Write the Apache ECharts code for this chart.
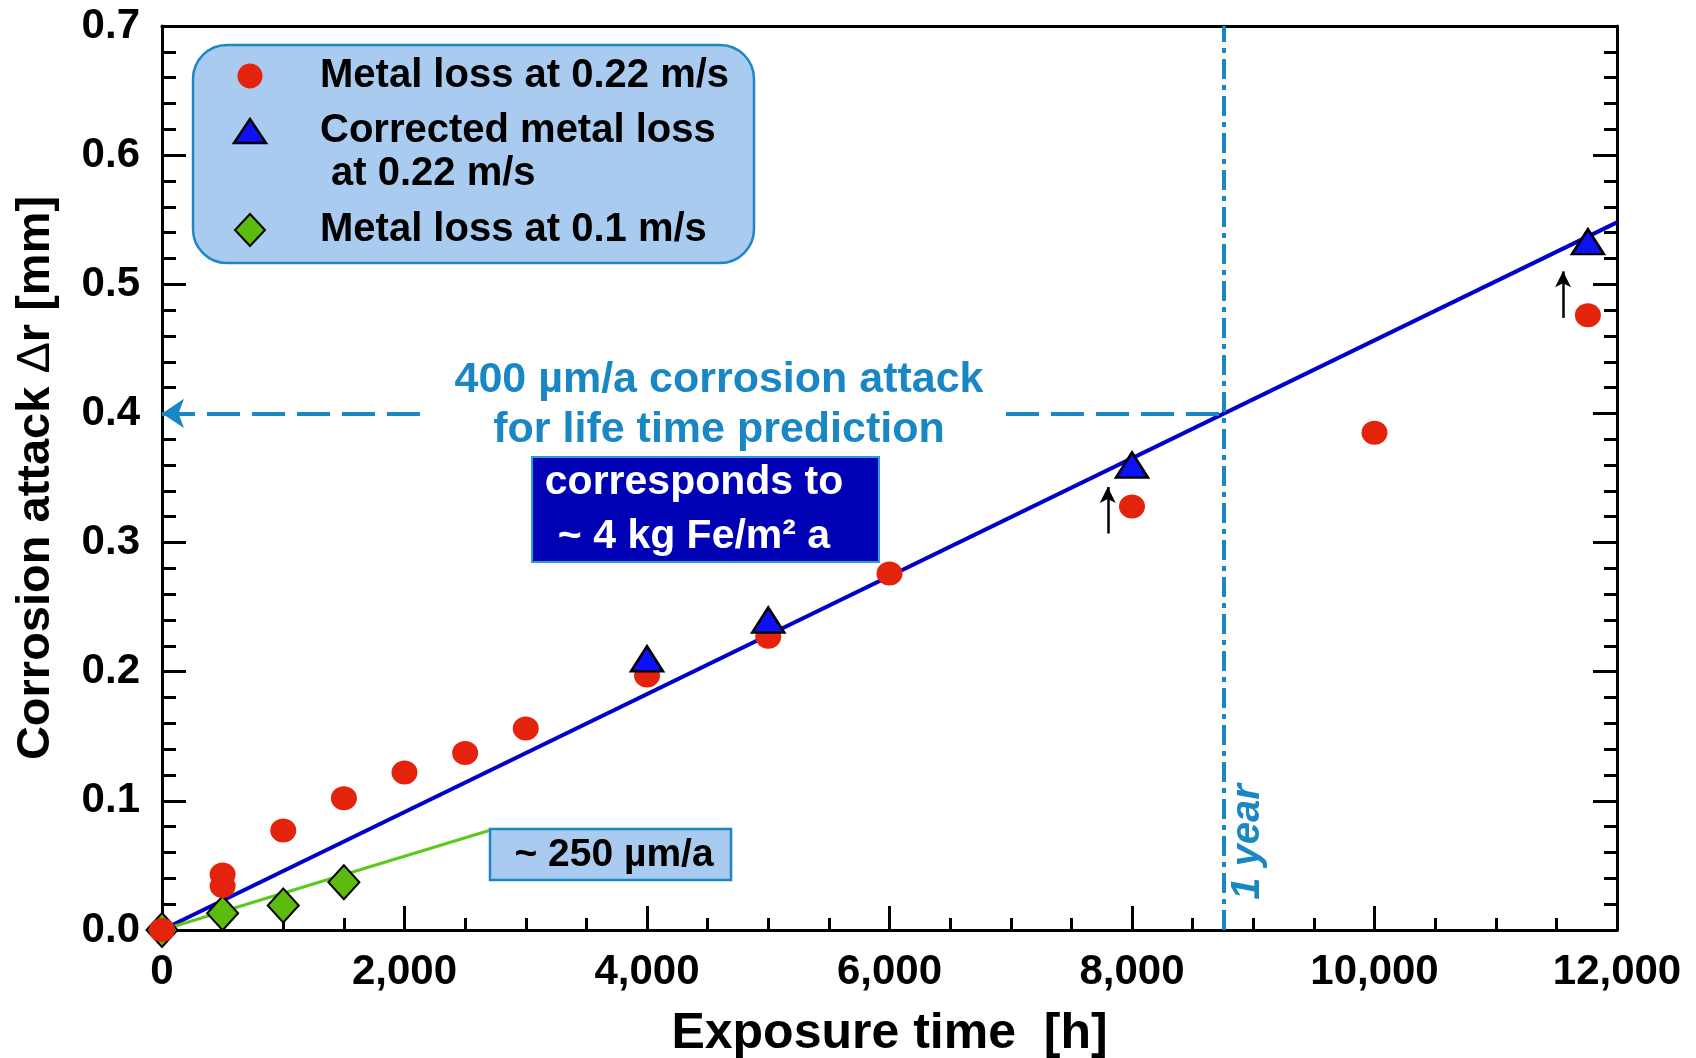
<!DOCTYPE html>
<html>
<head>
<meta charset="utf-8">
<script src="https://cdn.jsdelivr.net/npm/echarts@6/dist/echarts.min.js"></script>
<style>
  html, body { margin: 0; padding: 0; background: #fff; }
  #chart { width: 1696px; height: 1058px; }
</style>
</head>
<body>
<div id="chart"></div>
<script>
// Exposure time [h] and corrosion attack Δr [mm]
const redHours    = [0, 500, 500, 1000, 1500, 2000, 2500, 3000, 4000, 5000, 6000, 8000, 10000, 11760];
const redLoss     = [0, 0.043, 0.034, 0.077, 0.102, 0.122, 0.137, 0.156, 0.197, 0.227, 0.276, 0.328, 0.385, 0.476];
const triHours    = [4000, 5000, 8000, 11760];
const triLoss     = [0.210, 0.240, 0.360, 0.533];
const greenHours  = [0, 500, 1000, 1500];
const greenLoss   = [0, 0.013, 0.019, 0.037];

// Rates stated in the annotations (µm per year) and the length of one year in hours
const rateFast = 400;
const rateSlow = 250;
const hoursPerYear = 8760;
const slowFitEnd = 2705;

// Correction arrows: [hours, from mm, to mm]
const correctionArrows = [[7800, 0.307, 0.343], [11555, 0.474, 0.510]];

const xTicks = { min: 0, max: 12000, step: 2000 };
const yTicks = { min: 0, max: 0.7, step: 0.1 };

const FONT = '"Liberation Sans", Arial, sans-serif';
const RED = '#e3230b';
const TRI_BLUE = '#0c12f5';
const GREEN = '#5dbb0f';
const ANNO_BLUE = '#1a87c5';
const BOX_FILL = '#a9cbf0';
const BOX_EDGE = '#1f86c6';

const pair = (xs, ys) => xs.map((x, i) => [x, ys[i]]);
const lossAt = (rate, h) => rate / 1000 * h / hoursPerYear;

const chart = echarts.init(document.getElementById('chart'));

const tickLabel = { fontFamily: FONT, fontWeight: 'bold', fontSize: 42, color: '#000' };
const frameLine = { show: true, onZero: false, lineStyle: { color: '#000', width: 3 } };

const option = {
  animation: false,
  backgroundColor: '#fff',
  grid: { left: 162, right: 79, top: 26, bottom: 128, containLabel: false, outerBoundsMode: 'none' },
  xAxis: [
    {
      type: 'value', min: xTicks.min, max: xTicks.max, interval: xTicks.step,
      name: 'Exposure time  [h]', nameLocation: 'middle', nameGap: 79,
      nameTextStyle: { fontFamily: FONT, fontWeight: 'bold', fontSize: 50, color: '#000' },
      axisLine: frameLine,
      axisTick: { show: true, inside: true, length: 24, lineStyle: { color: '#000', width: 3 } },
      minorTick: { show: true, splitNumber: 4, length: 12, lineStyle: { color: '#000', width: 3 } },
      splitLine: { show: false },
      axisLabel: Object.assign({ margin: 21, showMinLabel: true, showMaxLabel: true,
        formatter: v => String(v).replace(/\B(?=(\d{3})+(?!\d))/g, ',') }, tickLabel)
    },
    {
      type: 'value', position: 'top', min: xTicks.min, max: xTicks.max,
      axisLine: frameLine,
      axisTick: { show: false }, minorTick: { show: false },
      axisLabel: { show: false }, splitLine: { show: false }
    }
  ],
  yAxis: [
    {
      type: 'value', min: yTicks.min, max: yTicks.max, interval: yTicks.step,
      name: '{b|Corrosion attack }{d|Δ}{b|r [mm]}', nameLocation: 'middle', nameGap: 102,
      nameTextStyle: {
        fontFamily: FONT, fontSize: 47, color: '#000',
        rich: {
          b: { fontFamily: FONT, fontWeight: 'bold', fontSize: 47, color: '#000' },
          d: { fontFamily: FONT, fontWeight: 'normal', fontSize: 47, color: '#000' }
        }
      },
      axisLine: frameLine,
      axisTick: { show: true, inside: true, length: 24, lineStyle: { color: '#000', width: 3 } },
      minorTick: { show: true, splitNumber: 5, length: 14, lineStyle: { color: '#000', width: 3 } },
      splitLine: { show: false },
      axisLabel: Object.assign({ margin: 22, formatter: v => v.toFixed(1) }, tickLabel)
    },
    {
      type: 'value', position: 'right', min: yTicks.min, max: yTicks.max, interval: yTicks.step,
      axisLine: frameLine,
      axisTick: { show: true, inside: true, length: 24, lineStyle: { color: '#000', width: 3 } },
      minorTick: { show: true, splitNumber: 5, length: 13, lineStyle: { color: '#000', width: 3 } },
      axisLabel: { show: false }, splitLine: { show: false }
    }
  ],
  series: [
    {
      name: 'fit 400 µm/a', type: 'line', z: 2, symbol: 'none', silent: true,
      data: [[0, 0], [xTicks.max, lossAt(rateFast, xTicks.max)]],
      lineStyle: { color: '#0000c8', width: 4 },
      markLine: {
        silent: true, animation: false, label: { show: false },
        data: [
          // one year
          [{ coord: [hoursPerYear, yTicks.min], symbol: 'none',
             lineStyle: { color: ANNO_BLUE, width: 4, type: [20, 6, 5, 6] } },
           { coord: [hoursPerYear, yTicks.max], symbol: 'none' }],
          // 400 µm after one year, pointing to the y axis
          [{ coord: [0, lossAt(rateFast, hoursPerYear)], symbol: 'arrow', symbolSize: [22, 22],
             lineStyle: { color: ANNO_BLUE, width: 4, type: [33, 12] } },
           { coord: [2186, lossAt(rateFast, hoursPerYear)], symbol: 'none' }],
          [{ coord: [6961, lossAt(rateFast, hoursPerYear)], symbol: 'none',
             lineStyle: { color: ANNO_BLUE, width: 4, type: [33, 12] } },
           { coord: [hoursPerYear, lossAt(rateFast, hoursPerYear)], symbol: 'none' }]
        ].concat(correctionArrows.map(a => [
          { coord: [a[0], a[1]], symbol: 'none', lineStyle: { color: '#000', width: 2.5, type: 'solid' } },
          { coord: [a[0], a[2]], symbol: 'arrow', symbolSize: [12, 16] }
        ]))
      }
    },
    {
      name: 'fit 250 µm/a', type: 'line', z: 2, symbol: 'none', silent: true,
      data: [[0, 0], [slowFitEnd, lossAt(rateSlow, slowFitEnd)]],
      lineStyle: { color: '#5cc81a', width: 3 }
    },
    {
      name: 'Metal loss at 0.1 m/s', type: 'scatter', z: 3, symbol: 'diamond', symbolSize: [31, 34],
      data: pair(greenHours, greenLoss),
      itemStyle: { color: GREEN, borderColor: '#000', borderWidth: 2, opacity: 1 }
    },
    {
      name: 'Metal loss at 0.22 m/s', type: 'scatter', z: 4, symbol: 'circle', symbolSize: [26, 24],
      data: pair(redHours, redLoss),
      itemStyle: { color: RED, opacity: 1 }
    },
    {
      name: 'Corrected metal loss at 0.22 m/s', type: 'scatter', z: 5, symbol: 'triangle', symbolSize: [32, 25],
      data: pair(triHours, triLoss),
      itemStyle: { color: TRI_BLUE, borderColor: '#000', borderWidth: 2.5, opacity: 1 }
    }
  ],
  graphic: [
    // key box
    { type: 'rect', z: 100, shape: { x: 193, y: 45, width: 561, height: 218, r: 34 },
      style: { fill: BOX_FILL, stroke: BOX_EDGE, lineWidth: 2.5 } },
    { type: 'circle', z: 101, shape: { cx: 250, cy: 76, r: 12.5 }, style: { fill: RED } },
    { type: 'polygon', z: 101, shape: { points: [[234, 143], [266, 143], [250, 119]] },
      style: { fill: TRI_BLUE, stroke: '#000', lineWidth: 2.5 } },
    { type: 'polygon', z: 101, shape: { points: [[250, 214], [265, 230], [250, 246], [235, 230]] },
      style: { fill: GREEN, stroke: '#000', lineWidth: 2 } },
    { type: 'text', z: 101, x: 320, y: 76, style: { text: 'Metal loss at 0.22 m/s', font: 'bold 40px ' + FONT, fill: '#000', verticalAlign: 'middle' } },
    { type: 'text', z: 101, x: 320, y: 131, style: { text: 'Corrected metal loss', font: 'bold 40px ' + FONT, fill: '#000', verticalAlign: 'middle' } },
    { type: 'text', z: 101, x: 331, y: 174, style: { text: 'at 0.22 m/s', font: 'bold 40px ' + FONT, fill: '#000', verticalAlign: 'middle' } },
    { type: 'text', z: 101, x: 320, y: 230, style: { text: 'Metal loss at 0.1 m/s', font: 'bold 40px ' + FONT, fill: '#000', verticalAlign: 'middle' } },

    // prediction note
    { type: 'text', z: 100, x: 719, y: 380, style: { text: '400 µm/a corrosion attack', font: 'bold 43px ' + FONT, fill: ANNO_BLUE, align: 'center', verticalAlign: 'middle' } },
    { type: 'text', z: 100, x: 719, y: 430, style: { text: 'for life time prediction', font: 'bold 43px ' + FONT, fill: ANNO_BLUE, align: 'center', verticalAlign: 'middle' } },
    { type: 'rect', z: 100, shape: { x: 532, y: 457, width: 347, height: 105 },
      style: { fill: '#0000b4', stroke: '#2d9bd6', lineWidth: 2 } },
    { type: 'text', z: 101, x: 694, y: 483, style: { text: 'corresponds to', font: 'bold 41px ' + FONT, fill: '#fff', align: 'center', verticalAlign: 'middle' } },
    { type: 'text', z: 101, x: 694, y: 537, style: { text: '~ 4 kg Fe/m² a', font: 'bold 41px ' + FONT, fill: '#fff', align: 'center', verticalAlign: 'middle' } },

    // slow-flow rate label
    { type: 'rect', z: 100, shape: { x: 490, y: 829, width: 241, height: 51 },
      style: { fill: BOX_FILL, stroke: BOX_EDGE, lineWidth: 2.5 } },
    { type: 'text', z: 101, x: 614, y: 855, style: { text: '~ 250 µm/a', font: 'bold 39px ' + FONT, fill: '#000', align: 'center', verticalAlign: 'middle' } },

    // one-year marker label
    { type: 'text', z: 100, x: 1248, y: 842, rotation: Math.PI / 2,
      style: { text: '1 year', font: 'italic bold 40px ' + FONT, fill: ANNO_BLUE, align: 'center', verticalAlign: 'middle' } }
  ]
};

chart.setOption(option);
</script>
</body>
</html>
